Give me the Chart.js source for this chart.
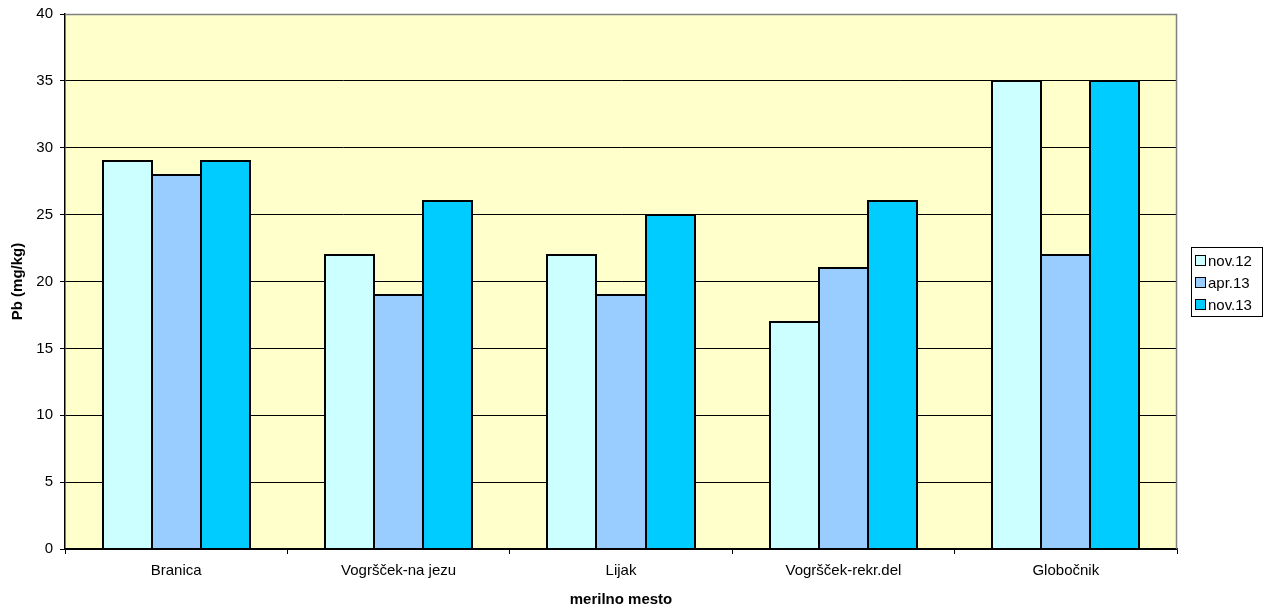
<!DOCTYPE html>
<html>
<head>
<meta charset="utf-8">
<script src="https://cdn.jsdelivr.net/npm/chart.js@4/dist/chart.umd.min.js"></script>
<style>
  html, body { margin: 0; padding: 0; background: #fff; }
  #wrap { width: 1270px; height: 610px; position: relative; }
</style>
</head>
<body>
<div id="wrap"><canvas id="c" width="1270" height="610"></canvas></div>
<script>
// Sampling sites along the x axis
const sites = ['Branica', 'Vogršček-na jezu', 'Lijak', 'Vogršček-rekr.del', 'Globočnik'];
// Lead content per sampling campaign (mg/kg)
const nov12 = [29, 22, 22, 17, 35];
const apr13 = [28, 19, 19, 21, 22];
const nov13 = [29, 26, 25, 26, 35];
const seriesLabels = ['nov.12', 'apr.13', 'nov.13'];
const seriesColors = ['#CCFFFF', '#99CCFF', '#00CCFF'];

const FONT = 'Arial, "Liberation Sans", sans-serif';

// Pale yellow plot area with a thin grey frame
const plotFrame = {
  id: 'plotFrame',
  beforeDraw(chart) {
    const { ctx, chartArea: a } = chart;
    ctx.save();
    ctx.fillStyle = '#FFFFCC';
    ctx.fillRect(a.left, a.top, a.right - a.left, a.bottom - a.top);
    ctx.restore();
  },
  afterDatasetsDraw(chart) {
    const { ctx, chartArea: a } = chart;
    ctx.save();
    // crisp black outlines around every bar, shared edges between neighbours
    ctx.strokeStyle = '#000';
    ctx.lineWidth = 2;
    chart.data.datasets.forEach((ds, di) => {
      chart.getDatasetMeta(di).data.forEach(bar => {
        const p = bar.getProps(['x', 'y', 'base', 'width'], true);
        const l = Math.round(p.x - p.width / 2);
        const r = Math.round(p.x + p.width / 2);
        const t = Math.round(p.y);
        const b = Math.round(p.base);
        ctx.strokeRect(l, t, r - l, b - t);
      });
    });
    ctx.strokeStyle = '#808080';
    ctx.lineWidth = 1.5;
    ctx.beginPath();
    ctx.moveTo(a.left, a.top + 0.5);
    ctx.lineTo(a.right - 0.5, a.top + 0.5);
    ctx.lineTo(a.right - 0.5, a.bottom);
    ctx.stroke();
    ctx.restore();
  }
};

// Boxed legend on the right side
const boxLegend = {
  id: 'boxLegend',
  afterDraw(chart) {
    const { ctx } = chart;
    const x = 1191.5, y = 247.5, w = 71, h = 69;
    ctx.save();
    ctx.fillStyle = '#fff';
    ctx.fillRect(x, y, w, h);
    ctx.strokeStyle = '#000';
    ctx.lineWidth = 1;
    ctx.strokeRect(x, y, w, h);
    ctx.font = '15px ' + FONT;
    ctx.textBaseline = 'middle';
    chart.data.datasets.forEach((ds, i) => {
      const cy = y + 13 + i * 22;
      ctx.fillStyle = ds.backgroundColor;
      ctx.fillRect(x + 4, cy - 5, 10, 10);
      ctx.strokeStyle = '#000';
      ctx.strokeRect(x + 4, cy - 5, 10, 10);
      ctx.fillStyle = '#000';
      ctx.textAlign = 'left';
      ctx.fillText(ds.label, x + 16.5, cy + 1);
    });
    ctx.restore();
  }
};

const seriesData = [nov12, apr13, nov13];

new Chart(document.getElementById('c'), {
  type: 'bar',
  data: {
    labels: sites,
    datasets: seriesData.map((vals, i) => ({
      label: seriesLabels[i],
      data: vals,
      backgroundColor: seriesColors[i],
      borderWidth: 0,
      categoryPercentage: 0.662,
      barPercentage: 1.0
    }))
  },
  options: {
    responsive: false,
    animation: false,
    devicePixelRatio: 1,
    layout: { padding: { left: 0, top: 14, right: 93, bottom: 0 } },
    plugins: {
      legend: { display: false },
      tooltip: { enabled: false }
    },
    scales: {
      x: {
        offset: true,
        grid: {
          offset: true,
          drawOnChartArea: false,
          drawTicks: true,
          tickLength: 5,
          color: '#000'
        },
        border: { color: '#000', width: 1.5 },
        ticks: { color: '#000', font: { family: FONT, size: 15 }, padding: 8, maxRotation: 0 },
        title: {
          display: true,
          text: 'merilno mesto',
          color: '#000',
          font: { family: FONT, size: 15, weight: 'bold' },
          padding: { top: 4, bottom: 1 }
        },
        afterFit(s) { s.height = 61; s.paddingLeft = 0; s.paddingRight = 0; }
      },
      y: {
        min: 0,
        max: 40,
        ticks: { stepSize: 5, color: '#000', font: { family: FONT, size: 15 }, padding: 7 },
        grid: { color: '#000', lineWidth: 1, tickLength: 5 },
        border: { color: '#000', width: 1.5 },
        title: {
          display: true,
          text: 'Pb (mg/kg)',
          color: '#000',
          font: { family: FONT, size: 15, weight: 'bold' },
          padding: { top: 9, bottom: 0 }
        },
        afterFit(s) { s.width = 65; s.paddingTop = 0; s.paddingBottom = 0; }
      }
    }
  },
  plugins: [plotFrame, boxLegend]
});
</script>
</body>
</html>
